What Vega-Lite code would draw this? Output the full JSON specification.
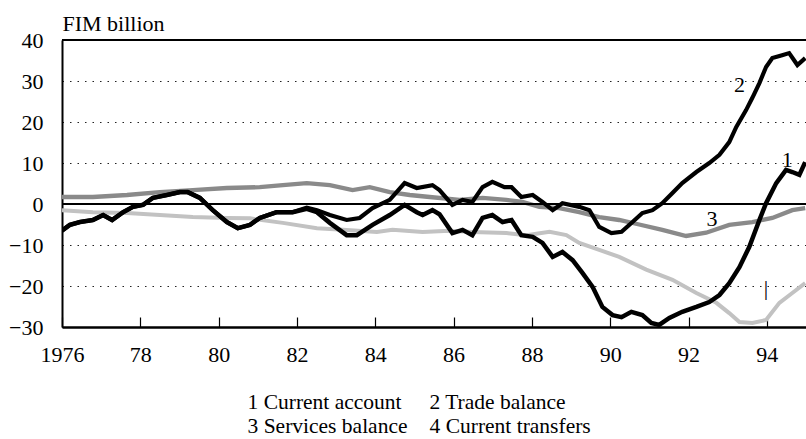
{
  "$schema": "https://vega.github.io/schema/vega-lite/v6.json",
  "width": 744,
  "height": 287,
  "autosize": "none",
  "padding": {"left": 62, "top": 40, "right": 0, "bottom": 112},
  "background": "white",
  "config": {
    "view": {"stroke": null},
    "font": "Liberation Serif"
  },
  "datasets": {
    "lines": [
      {"series": "1 Current account", "year": 1976.0, "value": -6.5},
      {"series": "1 Current account", "year": 1976.2, "value": -5.1},
      {"series": "1 Current account", "year": 1976.46, "value": -4.4},
      {"series": "1 Current account", "year": 1976.79, "value": -3.9},
      {"series": "1 Current account", "year": 1977.05, "value": -2.7},
      {"series": "1 Current account", "year": 1977.28, "value": -3.9},
      {"series": "1 Current account", "year": 1977.56, "value": -2.0},
      {"series": "1 Current account", "year": 1977.81, "value": -0.7},
      {"series": "1 Current account", "year": 1978.07, "value": -0.2},
      {"series": "1 Current account", "year": 1978.32, "value": 1.5},
      {"series": "1 Current account", "year": 1978.68, "value": 2.2},
      {"series": "1 Current account", "year": 1979.01, "value": 2.9},
      {"series": "1 Current account", "year": 1979.21, "value": 2.9},
      {"series": "1 Current account", "year": 1979.52, "value": 1.5},
      {"series": "1 Current account", "year": 1979.85, "value": -1.5},
      {"series": "1 Current account", "year": 1980.21, "value": -4.4},
      {"series": "1 Current account", "year": 1980.49, "value": -5.9},
      {"series": "1 Current account", "year": 1980.8, "value": -5.1},
      {"series": "1 Current account", "year": 1981.05, "value": -3.4},
      {"series": "1 Current account", "year": 1981.48, "value": -2.0},
      {"series": "1 Current account", "year": 1981.89, "value": -2.0},
      {"series": "1 Current account", "year": 1982.25, "value": -1.2},
      {"series": "1 Current account", "year": 1982.51, "value": -2.0},
      {"series": "1 Current account", "year": 1982.84, "value": -4.6},
      {"series": "1 Current account", "year": 1983.27, "value": -7.6},
      {"series": "1 Current account", "year": 1983.53, "value": -7.6},
      {"series": "1 Current account", "year": 1983.93, "value": -5.1},
      {"series": "1 Current account", "year": 1984.37, "value": -2.7},
      {"series": "1 Current account", "year": 1984.75, "value": -0.2},
      {"series": "1 Current account", "year": 1985.06, "value": -2.0},
      {"series": "1 Current account", "year": 1985.21, "value": -2.7},
      {"series": "1 Current account", "year": 1985.46, "value": -1.5},
      {"series": "1 Current account", "year": 1985.64, "value": -2.5},
      {"series": "1 Current account", "year": 1985.97, "value": -7.1},
      {"series": "1 Current account", "year": 1986.23, "value": -6.3},
      {"series": "1 Current account", "year": 1986.48, "value": -7.6},
      {"series": "1 Current account", "year": 1986.74, "value": -3.4},
      {"series": "1 Current account", "year": 1986.99, "value": -2.7},
      {"series": "1 Current account", "year": 1987.25, "value": -4.4},
      {"series": "1 Current account", "year": 1987.48, "value": -3.9},
      {"series": "1 Current account", "year": 1987.73, "value": -7.6},
      {"series": "1 Current account", "year": 1988.02, "value": -8.0},
      {"series": "1 Current account", "year": 1988.27, "value": -9.5},
      {"series": "1 Current account", "year": 1988.53, "value": -12.9},
      {"series": "1 Current account", "year": 1988.78, "value": -11.7},
      {"series": "1 Current account", "year": 1989.04, "value": -13.7},
      {"series": "1 Current account", "year": 1989.29, "value": -16.8},
      {"series": "1 Current account", "year": 1989.55, "value": -20.2},
      {"series": "1 Current account", "year": 1989.8, "value": -25.1},
      {"series": "1 Current account", "year": 1990.06, "value": -27.1},
      {"series": "1 Current account", "year": 1990.29, "value": -27.6},
      {"series": "1 Current account", "year": 1990.54, "value": -26.3},
      {"series": "1 Current account", "year": 1990.82, "value": -27.1},
      {"series": "1 Current account", "year": 1991.05, "value": -29.0},
      {"series": "1 Current account", "year": 1991.25, "value": -29.5},
      {"series": "1 Current account", "year": 1991.51, "value": -27.8},
      {"series": "1 Current account", "year": 1991.84, "value": -26.3},
      {"series": "1 Current account", "year": 1992.2, "value": -25.1},
      {"series": "1 Current account", "year": 1992.53, "value": -23.9},
      {"series": "1 Current account", "year": 1992.79, "value": -22.2},
      {"series": "1 Current account", "year": 1993.04, "value": -19.3},
      {"series": "1 Current account", "year": 1993.3, "value": -15.4},
      {"series": "1 Current account", "year": 1993.55, "value": -10.5},
      {"series": "1 Current account", "year": 1993.81, "value": -3.9},
      {"series": "1 Current account", "year": 1993.98, "value": 0.2},
      {"series": "1 Current account", "year": 1994.24, "value": 5.1},
      {"series": "1 Current account", "year": 1994.49, "value": 8.3},
      {"series": "1 Current account", "year": 1994.65, "value": 7.8},
      {"series": "1 Current account", "year": 1994.83, "value": 7.1},
      {"series": "1 Current account", "year": 1994.98, "value": 10.2},

      {"series": "2 Trade balance", "year": 1976.0, "value": -6.5},
      {"series": "2 Trade balance", "year": 1976.2, "value": -5.1},
      {"series": "2 Trade balance", "year": 1976.46, "value": -4.4},
      {"series": "2 Trade balance", "year": 1976.79, "value": -3.9},
      {"series": "2 Trade balance", "year": 1977.05, "value": -2.7},
      {"series": "2 Trade balance", "year": 1977.28, "value": -3.9},
      {"series": "2 Trade balance", "year": 1977.56, "value": -2.0},
      {"series": "2 Trade balance", "year": 1977.81, "value": -0.7},
      {"series": "2 Trade balance", "year": 1978.07, "value": -0.2},
      {"series": "2 Trade balance", "year": 1978.32, "value": 1.5},
      {"series": "2 Trade balance", "year": 1978.68, "value": 2.2},
      {"series": "2 Trade balance", "year": 1979.01, "value": 2.9},
      {"series": "2 Trade balance", "year": 1979.21, "value": 2.9},
      {"series": "2 Trade balance", "year": 1979.52, "value": 1.5},
      {"series": "2 Trade balance", "year": 1979.85, "value": -1.5},
      {"series": "2 Trade balance", "year": 1980.21, "value": -4.4},
      {"series": "2 Trade balance", "year": 1980.49, "value": -5.9},
      {"series": "2 Trade balance", "year": 1980.8, "value": -5.1},
      {"series": "2 Trade balance", "year": 1981.05, "value": -3.4},
      {"series": "2 Trade balance", "year": 1981.48, "value": -2.0},
      {"series": "2 Trade balance", "year": 1981.89, "value": -2.0},
      {"series": "2 Trade balance", "year": 1982.25, "value": -0.9},
      {"series": "2 Trade balance", "year": 1982.51, "value": -1.5},
      {"series": "2 Trade balance", "year": 1982.84, "value": -2.7},
      {"series": "2 Trade balance", "year": 1983.27, "value": -3.9},
      {"series": "2 Trade balance", "year": 1983.6, "value": -3.4},
      {"series": "2 Trade balance", "year": 1983.93, "value": -1.0},
      {"series": "2 Trade balance", "year": 1984.37, "value": 1.0},
      {"series": "2 Trade balance", "year": 1984.75, "value": 5.1},
      {"series": "2 Trade balance", "year": 1985.06, "value": 3.9},
      {"series": "2 Trade balance", "year": 1985.46, "value": 4.6},
      {"series": "2 Trade balance", "year": 1985.64, "value": 3.4},
      {"series": "2 Trade balance", "year": 1985.97, "value": -0.2},
      {"series": "2 Trade balance", "year": 1986.23, "value": 1.0},
      {"series": "2 Trade balance", "year": 1986.48, "value": 0.5},
      {"series": "2 Trade balance", "year": 1986.74, "value": 4.1},
      {"series": "2 Trade balance", "year": 1986.99, "value": 5.4},
      {"series": "2 Trade balance", "year": 1987.3, "value": 4.1},
      {"series": "2 Trade balance", "year": 1987.48, "value": 4.1},
      {"series": "2 Trade balance", "year": 1987.73, "value": 1.7},
      {"series": "2 Trade balance", "year": 1988.02, "value": 2.2},
      {"series": "2 Trade balance", "year": 1988.27, "value": 0.5},
      {"series": "2 Trade balance", "year": 1988.53, "value": -1.5},
      {"series": "2 Trade balance", "year": 1988.78, "value": 0.2},
      {"series": "2 Trade balance", "year": 1989.21, "value": -0.7},
      {"series": "2 Trade balance", "year": 1989.47, "value": -1.5},
      {"series": "2 Trade balance", "year": 1989.72, "value": -5.6},
      {"series": "2 Trade balance", "year": 1990.03, "value": -7.1},
      {"series": "2 Trade balance", "year": 1990.29, "value": -6.8},
      {"series": "2 Trade balance", "year": 1990.57, "value": -4.4},
      {"series": "2 Trade balance", "year": 1990.82, "value": -2.2},
      {"series": "2 Trade balance", "year": 1991.08, "value": -1.5},
      {"series": "2 Trade balance", "year": 1991.33, "value": 0.2},
      {"series": "2 Trade balance", "year": 1991.59, "value": 2.7},
      {"series": "2 Trade balance", "year": 1991.84, "value": 5.1},
      {"series": "2 Trade balance", "year": 1992.2, "value": 7.8},
      {"series": "2 Trade balance", "year": 1992.53, "value": 10.0},
      {"series": "2 Trade balance", "year": 1992.79, "value": 12.0},
      {"series": "2 Trade balance", "year": 1993.04, "value": 15.1},
      {"series": "2 Trade balance", "year": 1993.22, "value": 18.8},
      {"series": "2 Trade balance", "year": 1993.47, "value": 22.9},
      {"series": "2 Trade balance", "year": 1993.63, "value": 25.9},
      {"series": "2 Trade balance", "year": 1993.81, "value": 29.5},
      {"series": "2 Trade balance", "year": 1993.98, "value": 33.4},
      {"series": "2 Trade balance", "year": 1994.14, "value": 35.6},
      {"series": "2 Trade balance", "year": 1994.39, "value": 36.3},
      {"series": "2 Trade balance", "year": 1994.57, "value": 36.8},
      {"series": "2 Trade balance", "year": 1994.78, "value": 33.9},
      {"series": "2 Trade balance", "year": 1994.98, "value": 35.6},

      {"series": "3 Services balance", "year": 1976.0, "value": 1.7},
      {"series": "3 Services balance", "year": 1976.79, "value": 1.7},
      {"series": "3 Services balance", "year": 1977.66, "value": 2.2},
      {"series": "3 Services balance", "year": 1978.5, "value": 2.9},
      {"series": "3 Services balance", "year": 1979.34, "value": 3.4},
      {"series": "3 Services balance", "year": 1980.21, "value": 3.9},
      {"series": "3 Services balance", "year": 1981.05, "value": 4.1},
      {"series": "3 Services balance", "year": 1981.64, "value": 4.6},
      {"series": "3 Services balance", "year": 1982.25, "value": 5.1},
      {"series": "3 Services balance", "year": 1982.84, "value": 4.6},
      {"series": "3 Services balance", "year": 1983.42, "value": 3.4},
      {"series": "3 Services balance", "year": 1983.86, "value": 4.1},
      {"series": "3 Services balance", "year": 1984.37, "value": 2.9},
      {"series": "3 Services balance", "year": 1984.88, "value": 2.2},
      {"series": "3 Services balance", "year": 1985.39, "value": 1.7},
      {"series": "3 Services balance", "year": 1986.15, "value": 1.0},
      {"series": "3 Services balance", "year": 1986.74, "value": 1.5},
      {"series": "3 Services balance", "year": 1987.35, "value": 1.0},
      {"series": "3 Services balance", "year": 1987.76, "value": 0.5},
      {"series": "3 Services balance", "year": 1988.19, "value": -0.7},
      {"series": "3 Services balance", "year": 1988.7, "value": -1.0},
      {"series": "3 Services balance", "year": 1989.21, "value": -2.0},
      {"series": "3 Services balance", "year": 1989.72, "value": -3.2},
      {"series": "3 Services balance", "year": 1990.23, "value": -3.9},
      {"series": "3 Services balance", "year": 1990.74, "value": -5.0},
      {"series": "3 Services balance", "year": 1991.33, "value": -6.3},
      {"series": "3 Services balance", "year": 1991.94, "value": -7.8},
      {"series": "3 Services balance", "year": 1992.45, "value": -7.0},
      {"series": "3 Services balance", "year": 1993.04, "value": -5.1},
      {"series": "3 Services balance", "year": 1993.63, "value": -4.4},
      {"series": "3 Services balance", "year": 1994.14, "value": -3.4},
      {"series": "3 Services balance", "year": 1994.65, "value": -1.5},
      {"series": "3 Services balance", "year": 1994.98, "value": -1.0},

      {"series": "4 Current transfers", "year": 1976.0, "value": -1.5},
      {"series": "4 Current transfers", "year": 1976.79, "value": -2.0},
      {"series": "4 Current transfers", "year": 1977.66, "value": -2.2},
      {"series": "4 Current transfers", "year": 1978.5, "value": -2.7},
      {"series": "4 Current transfers", "year": 1979.34, "value": -3.2},
      {"series": "4 Current transfers", "year": 1980.21, "value": -3.4},
      {"series": "4 Current transfers", "year": 1980.8, "value": -3.5},
      {"series": "4 Current transfers", "year": 1981.64, "value": -4.6},
      {"series": "4 Current transfers", "year": 1982.51, "value": -5.9},
      {"series": "4 Current transfers", "year": 1983.17, "value": -6.3},
      {"series": "4 Current transfers", "year": 1984.04, "value": -6.8},
      {"series": "4 Current transfers", "year": 1984.44, "value": -6.3},
      {"series": "4 Current transfers", "year": 1985.21, "value": -6.8},
      {"series": "4 Current transfers", "year": 1985.9, "value": -6.5},
      {"series": "4 Current transfers", "year": 1986.48, "value": -6.8},
      {"series": "4 Current transfers", "year": 1987.35, "value": -7.1},
      {"series": "4 Current transfers", "year": 1987.86, "value": -7.6},
      {"series": "4 Current transfers", "year": 1988.45, "value": -6.8},
      {"series": "4 Current transfers", "year": 1988.88, "value": -7.6},
      {"series": "4 Current transfers", "year": 1989.21, "value": -9.5},
      {"series": "4 Current transfers", "year": 1989.72, "value": -11.2},
      {"series": "4 Current transfers", "year": 1990.23, "value": -12.9},
      {"series": "4 Current transfers", "year": 1990.92, "value": -16.0},
      {"series": "4 Current transfers", "year": 1991.59, "value": -18.5},
      {"series": "4 Current transfers", "year": 1992.2, "value": -21.7},
      {"series": "4 Current transfers", "year": 1992.71, "value": -24.1},
      {"series": "4 Current transfers", "year": 1993.04, "value": -26.6},
      {"series": "4 Current transfers", "year": 1993.3, "value": -28.8},
      {"series": "4 Current transfers", "year": 1993.63, "value": -29.0},
      {"series": "4 Current transfers", "year": 1993.98, "value": -28.3},
      {"series": "4 Current transfers", "year": 1994.32, "value": -24.1},
      {"series": "4 Current transfers", "year": 1994.65, "value": -21.7},
      {"series": "4 Current transfers", "year": 1994.98, "value": -19.3}
    ],
    "labels": [
      {"year": 1993.3, "value": 29.0, "text": "2"},
      {"year": 1994.52, "value": 10.7, "text": "1"},
      {"year": 1992.6, "value": -3.6, "text": "3"},
      {"year": 1993.98, "value": -20.5, "text": "|"}
    ]
  },
  "layer": [
    {
      "data": {"name": "lines"},
      "transform": [{"filter": "datum.series == '3 Services balance' || datum.series == '4 Current transfers'"}],
      "mark": {"type": "line", "clip": true},
      "encoding": {
        "x": {
          "field": "year", "type": "quantitative",
          "scale": {"domain": [1976, 1995], "nice": false, "zero": false},
          "axis": {
            "values": [1976,1977,1978,1979,1980,1981,1982,1983,1984,1985,1986,1987,1988,1989,1990,1991,1992,1993,1994,1995],
            "labelExpr": "datum.value == 1976 ? '1976' : (datum.value % 2 == 0 ? slice(toString(datum.value), 2) : '')",
            "title": null,
            "grid": false,
            "domainColor": "black",
            "domainWidth": 2.5,
            "tickColor": "black",
            "tickWidth": 1.2,
            "tickSize": -10,
            "labelPadding": 27,
            "labelFont": "Liberation Serif",
            "labelFontSize": 22,
            "labelColor": "black",
            "labelFlush": false,
            "labelOverlap": false
          }
        },
        "y": {
          "field": "value", "type": "quantitative",
          "scale": {"domain": [-30, 40], "nice": false, "zero": false},
          "axis": {
            "values": [-30,-20,-10,0,10,20,30,40],
            "title": "FIM billion",
            "titleAngle": 0,
            "titleAlign": "left",
            "titleBaseline": "alphabetic",
            "titleX": 0,
            "titleY": -10,
            "titleFont": "Liberation Serif",
            "titleFontSize": 22,
            "titleFontWeight": "normal",
            "titleColor": "black",
            "grid": true,
            "gridDash": [1.5, 6],
            "gridColor": "#222",
            "gridWidth": 1,
            "ticks": false,
            "domainColor": "black",
            "domainWidth": 2,
            "labelPadding": 19,
            "labelFont": "Liberation Serif",
            "labelFontSize": 22,
            "labelColor": "black"
          }
        },
        "color": {
          "field": "series", "type": "nominal",
          "scale": {
            "domain": ["1 Current account", "3 Services balance", "2 Trade balance", "4 Current transfers"],
            "range": ["black", "#8a8a8a", "black", "#c2c2c2"]
          },
          "legend": {
            "orient": "none",
            "legendX": 164,
            "legendY": 352,
            "columns": 2,
            "title": null,
            "symbolSize": 0,
            "symbolStrokeWidth": 0,
            "symbolOpacity": 0,
            "labelOffset": 0,
            "columnPadding": -4,
            "rowPadding": 1,
            "labelFont": "Liberation Serif",
            "labelFontSize": 21.5,
            "labelColor": "black",
            "labelLimit": 400
          }
        },
        "strokeWidth": {
          "field": "series", "type": "nominal",
          "scale": {
            "domain": ["1 Current account", "3 Services balance", "2 Trade balance", "4 Current transfers"],
            "range": [4.5, 4, 4.5, 3.5]
          },
          "legend": null
        }
      }
    },
    {
      "data": {"name": "lines"},
      "mark": {"type": "rule", "color": "black", "strokeWidth": 2},
      "encoding": {"y": {"datum": 0}}
    },
    {
      "data": {"name": "lines"},
      "mark": {"type": "rule", "color": "black", "strokeWidth": 2},
      "encoding": {"y": {"datum": 40}}
    },
    {
      "data": {"name": "lines"},
      "transform": [{"filter": "datum.series == '1 Current account' || datum.series == '2 Trade balance'"}],
      "mark": {"type": "line", "clip": true},
      "encoding": {
        "x": {"field": "year", "type": "quantitative"},
        "y": {"field": "value", "type": "quantitative"},
        "color": {"field": "series", "type": "nominal"},
        "strokeWidth": {"field": "series", "type": "nominal", "legend": null}
      }
    },
    {
      "data": {"name": "labels"},
      "mark": {"type": "text", "font": "Liberation Serif", "fontSize": 22, "fill": "black", "align": "center", "baseline": "middle"},
      "encoding": {
        "x": {"field": "year", "type": "quantitative"},
        "y": {"field": "value", "type": "quantitative"},
        "text": {"field": "text"}
      }
    }
  ]
}
